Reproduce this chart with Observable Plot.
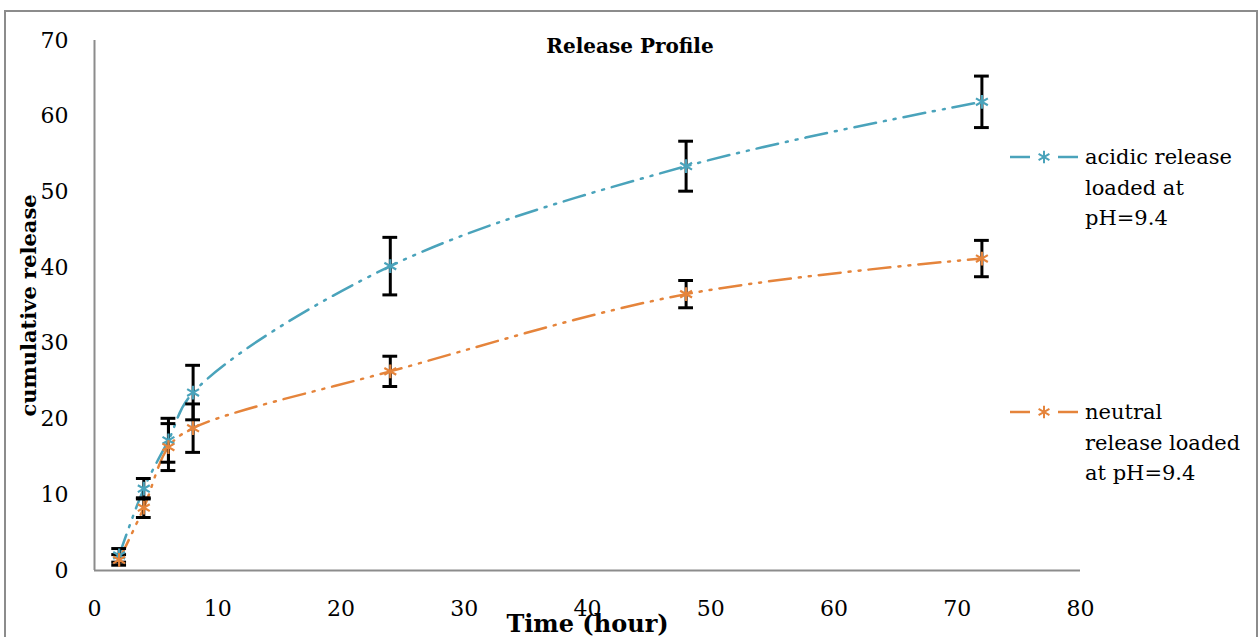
<!DOCTYPE html>
<html><head><meta charset="utf-8">
<script src="https://cdn.jsdelivr.net/npm/d3@7"></script>
<script src="https://cdn.jsdelivr.net/npm/@observablehq/plot@0.6"></script>
<style>
body{margin:0;background:#fff;font-family:"DejaVu Serif",serif;}
#wrap{position:relative;width:1260px;height:637px;overflow:hidden;}
#frame{position:absolute;left:4px;top:10px;width:1250px;height:700px;border:2px solid #8c8c8c;pointer-events:none;}
#title{position:absolute;left:0;width:1260px;top:34px;text-align:center;font-weight:bold;font-size:20px;color:#000;}
.leg{position:absolute;left:1008px;font-size:21px;line-height:30.5px;display:flex;color:#000;}
.leg svg{flex:none;}
#chart{position:absolute;left:0;top:0;}
</style></head>
<body>
<div id="wrap">
  <div id="chart"></div>
  <div id="title"></div>
  <div id="legend"></div>
  <div id="frame"></div>
</div>
<script>
const times = [2, 4, 6, 8, 24, 48, 72];
const acidic = [2.0, 10.8, 17.2, 23.5, 40.2, 53.4, 61.9];
const acidicErr = [0.9, 1.35, 2.9, 3.6, 3.8, 3.3, 3.4];
const neutral = [1.4, 8.3, 16.3, 18.8, 26.3, 36.5, 41.2];
const neutralErr = [0.7, 1.3, 3.1, 3.2, 2.0, 1.8, 2.4];
const seriesNames = ["acidic release loaded at pH=9.4", "neutral release loaded at pH=9.4"];
const seriesColors = ["#4aa3bb", "#e5843b"];
const xTicks = [0, 10, 20, 30, 40, 50, 60, 70, 80];
const yTicks = [0, 10, 20, 30, 40, 50, 60, 70];
const titleText = "Release Profile";
const xLabel = "Time (hour)";
const yLabel = "cumulative release";

const rows = [];
times.forEach((t, i) => {
  rows.push({t, v: acidic[i], e: acidicErr[i], s: seriesNames[0]});
});
times.forEach((t, i) => {
  rows.push({t, v: neutral[i], e: neutralErr[i], s: seriesNames[1]});
});
const capHalf = 0.6;
const dash = "22,8,2,8,2,8";

const plot = Plot.plot({
  width: 1260,
  height: 637,
  marginLeft: 94,
  marginRight: 180,
  marginTop: 40,
  marginBottom: 67,
  style: {fontFamily: "'DejaVu Serif', serif", fontSize: "22px", background: "transparent", color: "#000"},
  x: {domain: [0, 80], ticks: xTicks},
  y: {domain: [0, 70], ticks: yTicks},
  color: {domain: seriesNames, range: seriesColors},
  marks: [
    Plot.axisX({ticks: xTicks, tickSize: 0, tickPadding: 30, fontSize: 22, label: xLabel, labelArrow: "none", labelAnchor: "center", labelOffset: 61}),
    Plot.axisY({ticks: yTicks, tickSize: 0, tickPadding: 26, fontSize: 22, label: yLabel, labelArrow: "none", labelAnchor: "center", labelOffset: 73}),
    Plot.ruleY([0], {stroke: "#8c8c8c", strokeWidth: 2}),
    Plot.ruleX([0], {stroke: "#8c8c8c", strokeWidth: 2}),
    Plot.line(rows, {x: "t", y: "v", z: "s", stroke: "s", strokeWidth: 2.5, curve: "catmull-rom", strokeDasharray: dash}),
    Plot.ruleX(rows, {x: "t", y1: d => d.v - d.e, y2: d => d.v + d.e, stroke: "#000", strokeWidth: 3}),
    Plot.ruleY(rows, {y: d => d.v - d.e, x1: d => d.t - capHalf, x2: d => d.t + capHalf, stroke: "#000", strokeWidth: 3}),
    Plot.ruleY(rows, {y: d => d.v + d.e, x1: d => d.t - capHalf, x2: d => d.t + capHalf, stroke: "#000", strokeWidth: 3}),
    Plot.dot(rows, {x: "t", y: "v", stroke: "s", symbol: "asterisk", r: 6.5, strokeWidth: 2.2})
  ]
});
// axis labels: bold, no arrows
plot.querySelectorAll("g[aria-label='x-axis label'] text, g[aria-label='y-axis label'] text").forEach(t => {
  t.setAttribute("font-weight", "bold");
  t.textContent = t.textContent.replace(/\s*[↑→←↓]\s*/g, "");
});
plot.querySelectorAll("g[aria-label='x-axis label'] text").forEach(t => t.setAttribute("font-size", 24));
plot.querySelectorAll("g[aria-label='y-axis label'] text").forEach(t => t.setAttribute("font-size", 21));
document.getElementById("chart").appendChild(plot);
document.getElementById("title").textContent = titleText;

// legend
const legTops = [142, 397];
const legendLines = [["acidic release", "loaded at", "pH=9.4"], ["neutral", "release loaded", "at pH=9.4"]];
const legend = d3.select("#legend");
seriesNames.forEach((name, i) => {
  const item = legend.append("div").attr("class", "leg").style("top", legTops[i] + "px");
  const svg = item.append("svg").attr("width", 77).attr("height", 30);
  svg.append("line").attr("x1", 2).attr("x2", 22).attr("y1", 15).attr("y2", 15).attr("stroke", seriesColors[i]).attr("stroke-width", 2.5);
  svg.append("line").attr("x1", 50).attr("x2", 70).attr("y1", 15).attr("y2", 15).attr("stroke", seriesColors[i]).attr("stroke-width", 2.5);
  svg.append("path").attr("d", d3.symbol(d3.symbolAsterisk, 110)()).attr("transform", "translate(36,15)").attr("stroke", seriesColors[i]).attr("stroke-width", 2).attr("fill", "none");
  const txt = item.append("div");
  legendLines[i].forEach(l => txt.append("div").text(l));
});
</script>
</body></html>
